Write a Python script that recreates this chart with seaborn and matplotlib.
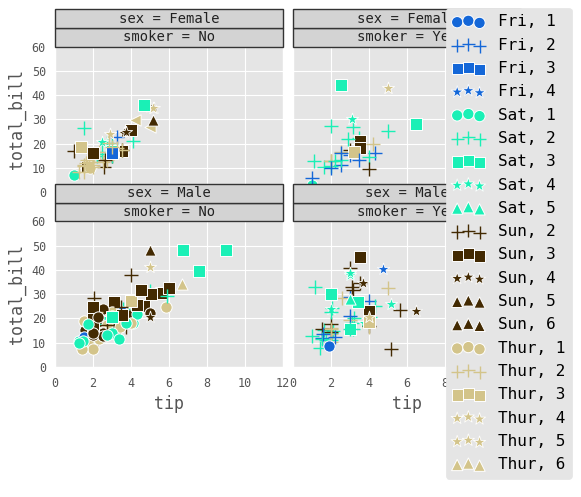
import pandas as pd
import seaborn as sns
import matplotlib.pyplot as plt
from matplotlib.patches import Rectangle

# tips data
total_bill = [
    16.99, 10.34, 21.01, 23.68, 24.59, 25.29, 8.77, 26.88, 15.04, 14.78, 10.27, 35.26, 15.42, 18.43, 14.83, 21.58, 10.33, 16.29, 16.97,
    20.65, 17.92, 20.29, 15.77, 39.42, 19.82, 17.81, 13.37, 12.69, 21.70, 19.65, 9.55, 18.35, 15.06, 20.69, 17.78, 24.06, 16.31, 16.93, 18.69, 31.27, 16.04,
    17.46, 13.94, 9.68, 30.40, 18.29, 22.23, 32.40, 28.55, 18.04, 12.54, 10.29, 34.81, 9.94, 25.56, 19.49,
    38.01, 26.41, 11.24, 48.27, 20.29, 13.81, 11.02, 18.29, 17.59, 20.08, 16.45, 3.07, 20.23, 15.01, 12.02, 17.07, 26.86, 25.28, 14.73, 10.51, 17.92,
    27.20, 22.76, 17.29, 19.44, 16.66, 10.07, 32.68, 15.98, 34.83, 13.03, 18.28, 24.71, 21.16,
    28.97, 22.49, 5.75, 16.32, 22.75, 40.17, 27.28, 12.03, 21.01, 12.46, 11.35, 15.38,
    44.30, 22.42, 20.92, 15.36, 20.49, 25.21, 18.24, 14.31, 14.00, 7.25,
    38.07, 23.95, 25.71, 17.31, 29.93,
    10.65, 12.43, 24.08, 11.69, 13.42, 14.26, 15.95, 12.48, 29.80, 8.52, 14.52, 11.38, 22.82, 19.08, 20.27, 11.17, 12.26, 18.26, 8.51, 10.33, 14.15,
    16.00, 13.16, 17.47, 34.30, 41.19, 27.05, 16.43, 8.35, 18.64, 11.87, 9.78, 7.51,
    14.07, 13.13, 17.26, 24.55, 19.77, 29.85, 48.17, 25.00, 13.39, 16.49, 21.50, 12.66, 16.21, 13.81, 17.51, 24.52, 20.76, 31.71,
    10.59, 10.63, 50.81, 15.81,
    7.25, 31.85, 16.82, 32.90, 17.89, 14.48, 9.60, 34.63, 34.65, 23.33, 45.35, 23.17, 40.55, 20.69, 20.90, 30.46, 18.15, 23.10, 15.69,
    19.81, 28.44, 15.48, 16.58, 7.56, 10.34, 43.11, 13.00, 13.51, 18.71, 12.74, 13.00, 16.40, 20.53, 16.47,
    26.59, 38.73, 24.27, 12.76, 30.06, 25.89, 48.33, 13.27, 28.17, 12.90, 28.15, 11.59, 7.74, 30.14,
    12.16, 13.42, 8.58, 15.98, 13.42, 16.27, 10.09,
    20.45, 13.28, 22.12, 24.01, 15.69, 11.61, 10.77, 15.53, 10.07, 12.60, 32.83, 35.83, 29.03, 27.18, 22.67, 17.82, 18.78,
]
tip = [
    1.01, 1.66, 3.50, 3.31, 3.61, 4.71, 2.00, 3.12, 1.96, 3.23, 1.71, 5.00, 1.57, 3.00, 3.02, 3.92, 1.67, 3.71, 3.50,
    3.35, 4.08, 2.75, 2.23, 7.58, 3.18, 2.34, 2.00, 2.00, 4.30, 3.00, 1.45, 2.50, 3.00, 2.45, 3.27, 3.60, 2.00, 3.07, 2.31, 5.00, 2.24,
    2.54, 3.06, 1.32, 5.60, 3.00, 5.00, 6.00, 2.05, 3.00, 2.50, 2.60, 5.20, 1.56, 4.34, 3.51,
    3.00, 1.50, 1.76, 6.73, 3.21, 2.00, 1.98, 3.76, 2.64, 3.15, 2.47, 1.00, 2.01, 2.09, 1.97, 3.00, 3.14, 5.00, 2.20, 1.25, 3.08,
    4.00, 3.00, 2.71, 3.00, 3.40, 1.83, 5.00, 2.03, 5.17, 2.00, 4.00, 5.85, 3.00,
    3.00, 3.50, 1.00, 4.30, 3.25, 4.73, 4.00, 1.50, 3.00, 1.50, 2.50, 3.00,
    2.50, 3.48, 4.08, 1.64, 4.06, 4.29, 3.76, 4.00, 3.00, 1.00,
    4.00, 2.55, 4.00, 3.50, 5.07,
    1.50, 1.80, 2.92, 2.31, 1.68, 2.50, 2.00, 2.52, 4.20, 1.48, 2.00, 2.00, 2.18, 1.50, 2.83, 1.50, 2.00, 3.25, 1.25, 2.00, 2.00,
    2.00, 2.75, 3.50, 6.70, 5.00, 5.00, 2.30, 1.50, 1.36, 1.63, 1.73, 2.00,
    2.50, 2.00, 2.74, 2.00, 2.00, 5.14, 5.00, 3.75, 2.61, 2.00, 3.50, 2.50, 2.00, 2.00, 3.00, 3.48, 2.24, 4.50,
    1.61, 2.00, 10.00, 3.16,
    5.15, 3.18, 4.00, 3.11, 2.00, 2.00, 4.00, 3.55, 3.68, 5.65, 3.50, 6.50, 3.00, 5.00, 3.50, 2.00, 3.50, 4.00, 1.50,
    4.19, 2.56, 2.02, 4.00, 1.44, 2.00, 5.00, 2.00, 2.00, 4.00, 2.01, 2.00, 2.50, 4.00, 3.23,
    3.41, 3.00, 2.03, 2.23, 2.00, 5.16, 9.00, 2.50, 6.50, 1.10, 3.00, 1.50, 1.44, 3.09,
    2.20, 3.48, 1.92, 3.00, 1.58, 2.50, 2.00,
    3.00, 2.72, 2.88, 2.00, 3.00, 3.39, 1.47, 3.00, 1.25, 1.00, 1.17, 4.67, 5.92, 2.00, 2.00, 1.75, 3.00,
]
size = [
    2, 3, 3, 2, 4, 4, 2, 4, 2, 2, 2, 4, 2, 4, 2, 2, 3, 3, 3,
    3, 2, 2, 2, 4, 2, 4, 2, 2, 2, 2, 2, 4, 2, 4, 2, 3, 3, 3, 3, 3, 3,
    2, 2, 2, 4, 2, 2, 4, 3, 2, 2, 2, 4, 2, 4, 2,
    4, 2, 2, 4, 2, 2, 2, 4, 3, 3, 2, 1, 2, 2, 2, 3, 2, 2, 2, 2, 2,
    4, 2, 2, 2, 2, 1, 2, 2, 4, 2, 2, 2, 2,
    2, 2, 2, 2, 2, 4, 2, 2, 2, 2, 2, 2,
    3, 2, 2, 2, 2, 2, 2, 2, 2, 1,
    3, 2, 3, 2, 4,
    2, 2, 4, 2, 2, 2, 2, 2, 6, 2, 2, 2, 3, 2, 2, 2, 2, 2, 2, 2, 2,
    2, 2, 2, 6, 5, 6, 2, 2, 3, 2, 2, 2,
    2, 2, 3, 4, 4, 5, 6, 4, 2, 4, 4, 2, 3, 2, 2, 3, 2, 4,
    2, 2, 3, 2,
    2, 2, 2, 2, 2, 2, 2, 2, 4, 2, 3, 4, 2, 5, 3, 5, 3, 3, 2,
    2, 2, 2, 2, 2, 2, 4, 2, 2, 3, 2, 2, 2, 4, 3,
    3, 4, 2, 2, 3, 4, 4, 2, 3, 2, 5, 2, 2, 4,
    2, 2, 1, 3, 2, 2, 2,
    4, 2, 2, 4, 3, 2, 2, 2, 2, 2, 2, 3, 3, 2, 2, 2, 2,
]
sex_codes = ("FMMMFMMMMMMFMMFMFMF" "MMFFMMMMMMFMMFFMMMFMMM" "MMMMMMMMMMFFMMM"
             "MFMMMMMMMMFFMMMFFFFMM" "MMMMMFMMFMMMM" "MMFFFMMMMMFF" "FFFMMMMFMF"
             "MMFFM" "FFFMFMMFFMFFMMFFFFFFFMFFMMFFFFFMM" "MMMMMFMFFMMMFMFMMM" "FFMM"
             "MMMMMMFMMMMMMMFMFMM" "FMMMMMFFMMFFFMF" "MMMFMMMFFFMMMF" "MFMFMFF"
             "MMFMMMMMMMMFMFMMF")
smoker_codes = ("N" * 19 + "N" * 22 + "N" * 15 + "YNYNYYYYNNNYNYNNYYNNY" + "NNNYNNYNNNNNN"
                + "YNYYNYYYYNYY" + "YYNYYYNYNN" + "NNNNN" + "N" * 21 + "Y" + "N" * 11
                + "N" * 14 + "Y" + "NNN" + "YYYY" + "Y" * 13 + "N" + "Y" * 5
                + "YYYYNYYYYYYYYYY" + "YYYYYYNYYYYYYY" + "YYYNYYY" + "NNYYYNNYNYYNNYYNN")
day = (["Sun"] * 19 + ["Sat"] * 22 + ["Sun"] * 15 + ["Sat"] * 21 + ["Thur"] * 13
       + ["Fri"] * 12 + ["Sat"] * 10 + ["Sun"] * 5 + ["Thur"] * 33 + ["Sun"] * 18
       + ["Sat"] * 4 + ["Sun"] * 19 + ["Thur"] * 15 + ["Sat"] * 14 + ["Fri"] * 7
       + ["Sat"] * 16 + ["Thur"])

day_colors = {"Fri": "#1467d8", "Sat": "#1af0b6", "Sun": "#432a02", "Thur": "#d3c48a"}
marker_list = ["o", "+", "s", "*", "^", "<"]

tips = pd.DataFrame({
    "total_bill": total_bill,
    "tip": tip,
    "sex": [{"F": "Female", "M": "Male"}[c] for c in sex_codes],
    "smoker": [{"N": "No", "Y": "Yes"}[c] for c in smoker_codes],
    "day": day,
    "size": size,
})

plt.style.use("ggplot")
plt.rcParams["font.family"] = ["DejaVu Sans Mono"]
plt.rcParams["xtick.labelsize"] = 8.5
plt.rcParams["ytick.labelsize"] = 8.5
plt.rcParams["axes.labelsize"] = 12
plt.rcParams["xtick.major.size"] = 0
plt.rcParams["ytick.major.size"] = 0
plt.rcParams["xtick.major.pad"] = 7
plt.rcParams["ytick.major.pad"] = 6.5

g = sns.FacetGrid(tips, row="sex", col="smoker", row_order=["Female", "Male"],
                  col_order=["No", "Yes"], despine=False)
g.fig.set_size_inches(5.81, 4.97)

# markers follow the sizes present in each facet; points go down in row order
# and the legend keeps the handle from the last facet drawn
legend_data = {}
for i, sx in enumerate(["Female", "Male"]):
    for j, sm in enumerate(["No", "Yes"]):
        ax = g.axes[i, j]
        sub = tips[(tips["sex"] == sx) & (tips["smoker"] == sm)]
        sizes = sorted(sub["size"].unique())
        for _, row in sub.iterrows():
            m = marker_list[sizes.index(row["size"])]
            c = day_colors[row["day"]]
            if m == "+":
                h = ax.scatter([row["tip"]], [row["total_bill"]], s=90, marker=m,
                               color=c, linewidths=1)
            elif m == "*":
                h = ax.scatter([row["tip"]], [row["total_bill"]], s=85, marker=m,
                               color=c, edgecolor="white", linewidths=0.6)
            else:
                h = ax.scatter([row["tip"]], [row["total_bill"]], s=66, marker=m,
                               color=c, edgecolor="white", linewidths=0.7)
            legend_data[(row["day"], row["size"])] = h
        ax.set_title("")
        # two stacked strips over every panel
        for k, txt in enumerate([f"smoker = {sm}", f"sex = {sx}"]):
            y0 = 1 + k * 0.128
            ax.add_patch(Rectangle((0, y0), 1, 0.128, transform=ax.transAxes, clip_on=False,
                                   facecolor="#d3d3d3", edgecolor="#333333", lw=1, zorder=5))
            ax.text(0.5, y0 + 0.064, txt, transform=ax.transAxes, ha="center", va="center",
                    fontsize=10, color="#222222", zorder=6, clip_on=False)

g.set(xlim=(0, 12), ylim=(0, 60), xticks=range(0, 13, 2), yticks=range(0, 61, 10))
g.set_axis_labels("tip", "total_bill")
g.fig.subplots_adjust(left=0.0947, right=0.8967, bottom=0.2616, top=0.9064,
                      wspace=0.044, hspace=0.199)

keys = sorted(legend_data)
g.fig.legend([legend_data[k] for k in keys], [f"{d}, {sz}" for d, sz in keys],
             loc="upper left", bbox_to_anchor=(446 / 581, 1 - 8 / 497), scatterpoints=3,
             fontsize=11.5, labelspacing=0.52, framealpha=1, facecolor="#e5e5e5",
             edgecolor="#e5e5e5", borderaxespad=0, handletextpad=0.85)

g.fig.savefig("out.png", dpi=100)
